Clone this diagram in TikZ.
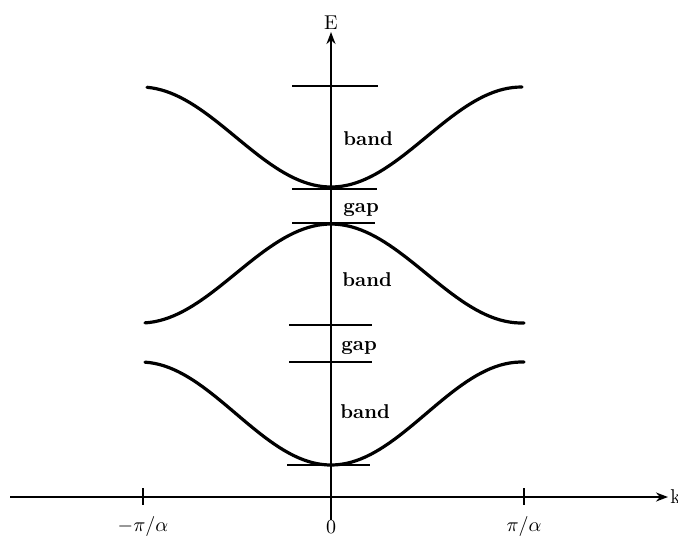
\documentclass[tikz,border=0pt]{standalone}
\usepackage{amsmath}
\usepackage{tikz}
\usetikzlibrary{arrows.meta}

\begin{document}
\begin{tikzpicture}[
  x=0.5pt, y=-0.5pt,
  axis/.style={line width=1pt, -{Stealth[length=6pt, width=4.5pt]}},
  tick/.style={line width=1pt},
  curve/.style={line width=1.6pt, line cap=round},
  level/.style={line width=1pt},
  lbl/.style={font=\bfseries, anchor=base west, inner sep=0pt}
]
  \useasboundingbox (0,0) rectangle (678,548);

  % Axes
  \coordinate (o) at (331,497);
  \coordinate (kstart) at (10,497);
  \coordinate (kend) at (668,497);
  \coordinate (estart) at (331,520);
  \coordinate (eend) at (331,32);
  \draw[axis] (kstart) -- (kend);
  \draw[axis] (estart) -- (eend);
  \node[anchor=west, inner sep=1pt] (k) at (kend) {k};
  \node[anchor=south, inner sep=1pt] (E) at (eend) {E};

  % Ticks and labels
  \coordinate (kl) at (143,497);
  \coordinate (kr) at (524,497);
  \draw[tick] ([yshift=4.5pt]kl) -- ([yshift=-4pt]kl);
  \draw[tick] ([yshift=4.5pt]kr) -- ([yshift=-4pt]kr);
  \node (mpi) at (143,526) {$-\pi/\alpha$};
  \node (zero) at (331,527) {0};
  \node (ppi) at (524,526) {$\pi/\alpha$};

  % Bands
  \draw[curve, domain=147:522, samples=80] plot (\x, {137+50*cos((\x-331)/190.5*180)});
  \draw[curve, domain=145:524, samples=80] plot (\x, {273.5-49.5*cos((\x-331)/190.5*180)});
  \draw[curve, domain=145:524, samples=80] plot (\x, {413.5+51.5*cos((\x-331)/190.5*180)});

  % Band edges
  \draw[level] (292,86) -- (378,86);
  \draw[level] (292,189) -- (377,189);
  \draw[level] (292,223) -- (375,223);
  \draw[level] (289,325) -- (372,325);
  \draw[level] (289,362) -- (372,362);
  \draw[level] (287,465) -- (370,465);

  % Labels
  \node[lbl] (band1) at (343,145) {band};
  \node[lbl] (gap1) at (343,212) {gap};
  \node[lbl] (band2) at (342,286) {band};
  \node[lbl] (gap2) at (341,350) {gap};
  \node[lbl] (band3) at (340,418) {band};
\end{tikzpicture}
\end{document}
